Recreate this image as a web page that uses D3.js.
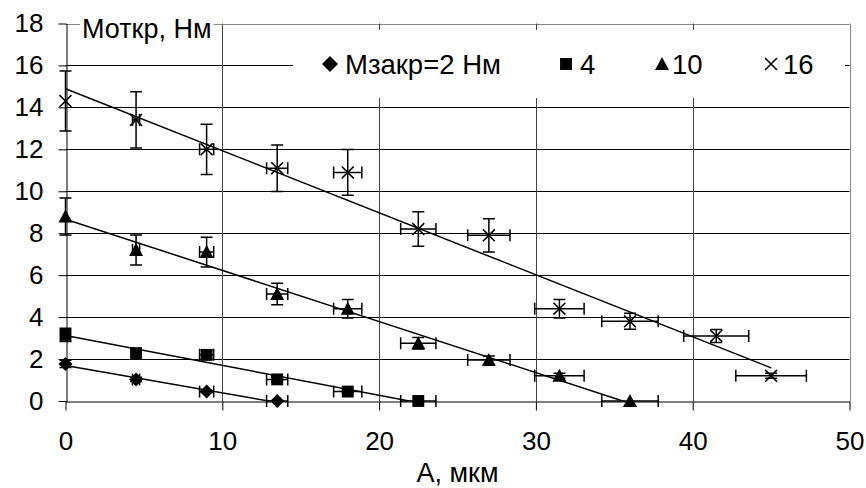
<!DOCTYPE html>
<html>
<head>
<meta charset="utf-8">
<script src="https://cdn.jsdelivr.net/npm/d3@7"></script>
<style>
  body { margin: 0; background: #fff; }
  svg { display: block; font-family: "Liberation Sans", Arial, sans-serif; }
</style>
</head>
<body>
<div id="chart"></div>
<script>
// data: A (мкм) and Mоткр (Нм) for each Mзакр
var aM2  = [0, 4.5, 9, 13.5];
var mM2  = [1.77, 1.03, 0.45, 0];
var aM4  = [0, 4.5, 9, 13.5, 18, 22.5];
var mM4  = [3.15, 2.28, 2.2, 1.03, 0.45, 0];
var aM10 = [0, 4.5, 9, 13.5, 18, 22.5, 27, 31.5, 36];
var mM10 = [8.8, 7.2, 7.1, 5.1, 4.4, 2.75, 1.95, 1.2, 0];
var aM16 = [0, 4.5, 9, 13.5, 18, 22.5, 27, 31.5, 36, 41.5, 45];
var mM16 = [14.3, 13.4, 12.0, 11.1, 10.9, 8.2, 7.9, 4.4, 3.8, 3.1, 1.2];

var seriesNames = ["Мзакр=2 Нм", "4", "10", "16"];
var seriesMarks = ["diamond", "square", "triangle", "cross"];
var yErrFrac = 0.10;   // vertical error bars, share of value
var xErrFrac = 0.05;   // horizontal error bars, share of value

var xTicks = [0, 10, 20, 30, 40, 50];
var yTicks = [0, 2, 4, 6, 8, 10, 12, 14, 16, 18];
var xTitle = "А, мкм";
var yTitle = "Моткр, Нм";

var W = 866, H = 488;
var tickFont = 26, titleFont = 27, legendFont = 27.5;

var x = d3.scaleLinear().domain([0, 50]).range([65.5, 849.5]);
var y = d3.scaleLinear().domain([0, 18]).range([401, 23.5]);

var svg = d3.select("#chart").append("svg")
    .attr("width", W)
    .attr("height", H);

svg.append("defs").append("clipPath").attr("id", "plot")
  .append("rect")
    .attr("x", x(0)).attr("y", y(18))
    .attr("width", x(50) - x(0)).attr("height", y(0) - y(18));

var crisp = function(v){ return Math.round(v) + 0.5; };

// grid ----------------------------------------------------------------------
svg.append("g").selectAll("line")
    .data(yTicks.filter(function(d){ return d > 0; }))
    .enter().append("line")
    .attr("x1", x(0)).attr("x2", x(50))
    .attr("y1", function(d){ return crisp(y(d)); })
    .attr("y2", function(d){ return crisp(y(d)); })
    .attr("stroke", function(d){ return d == 18 ? "#888" : "#000"; })
    .attr("stroke-width", 1);

svg.append("g").selectAll("line")
    .data(xTicks.filter(function(d){ return d > 0; }))
    .enter().append("line")
    .attr("y1", y(0)).attr("y2", y(18))
    .attr("x1", function(d){ return crisp(x(d)); })
    .attr("x2", function(d){ return crisp(x(d)); })
    .attr("stroke", function(d){ return d == 50 ? "#888" : "#444"; })
    .attr("stroke-width", 1);

// axes ----------------------------------------------------------------------
var yAxis = svg.append("g")
    .attr("transform", "translate(" + crisp(x(0)) + ",0)")
    .call(d3.axisLeft(y).tickValues(yTicks).tickSize(8).tickPadding(15).tickSizeOuter(0));
var xAxis = svg.append("g")
    .attr("transform", "translate(0," + crisp(y(0)) + ")")
    .call(d3.axisBottom(x).tickValues(xTicks).tickSize(9).tickPadding(21).tickSizeOuter(0));
[xAxis, yAxis].forEach(function(g){
    g.select(".domain").attr("stroke", "#000").attr("stroke-width", 1);
    g.selectAll(".tick line").attr("stroke", "#000");
    g.selectAll(".tick text").attr("fill", "#000")
        .style("font-size", tickFont + "px")
        .style("font-family", "'Liberation Sans', Arial, sans-serif");
});

// marker shapes -------------------------------------------------------------
function markerPath(kind, s){
    if(kind == "diamond"){ return "M0," + (-s) + "L" + s + ",0L0," + s + "L" + (-s) + ",0Z"; }
    if(kind == "square"){ var h = s*0.85; return "M" + (-h) + "," + (-h) + "H" + h + "V" + h + "H" + (-h) + "Z"; }
    if(kind == "triangle"){ return "M0," + (-s) + "L" + s + "," + (s*0.85) + "L" + (-s) + "," + (s*0.85) + "Z"; }
    var c = s*0.85;
    return "M" + (-c) + "," + (-c) + "L" + c + "," + c + "M" + (-c) + "," + c + "L" + c + "," + (-c);
}
function drawMarker(g, kind, px, py, s){
    var p = g.append("path")
        .attr("d", markerPath(kind, s))
        .attr("transform", "translate(" + px + "," + py + ")");
    if(kind == "cross"){ p.attr("fill", "none").attr("stroke", "#000").attr("stroke-width", 1.6); }
    else { p.attr("fill", "#000"); }
}

// series --------------------------------------------------------------------
var series = [[aM2, mM2], [aM4, mM4], [aM10, mM10], [aM16, mM16]];
var plot = svg.append("g").attr("clip-path", "url(#plot)");
var marks = svg.append("g");
var cap = 6;

series.forEach(function(sr, si){
    var xs = sr[0], ys = sr[1];
    // least squares trend line over the data range
    var mx = d3.mean(xs), my = d3.mean(ys);
    var sxy = d3.sum(xs, function(v, i){ return (v - mx)*(ys[i] - my); });
    var sxx = d3.sum(xs, function(v){ return (v - mx)*(v - mx); });
    var k = sxy/sxx, b = my - k*mx;
    var ends = d3.extent(xs);
    plot.append("line")
        .attr("x1", x(ends[0])).attr("y1", y(k*ends[0] + b))
        .attr("x2", x(ends[1])).attr("y2", y(k*ends[1] + b))
        .attr("stroke", "#000").attr("stroke-width", 1.5);

    var eb = marks.append("g").attr("stroke", "#000").attr("stroke-width", 1.5).attr("fill", "none");
    xs.forEach(function(a, i){
        var m = ys[i];
        var px = x(a), py = y(m);
        var dy = m*yErrFrac, dx = a*xErrFrac;
        if(dy > 0){
            var t = y(m + dy), bt = y(m - dy);
            eb.append("path").attr("d",
                "M" + px + "," + t + "V" + bt +
                "M" + (px - cap) + "," + t + "H" + (px + cap) +
                "M" + (px - cap) + "," + bt + "H" + (px + cap));
        }
        if(dx > 0){
            var l = x(a - dx), r = x(a + dx);
            eb.append("path").attr("d",
                "M" + l + "," + py + "H" + r +
                "M" + l + "," + (py - cap) + "V" + (py + cap) +
                "M" + r + "," + (py - cap) + "V" + (py + cap));
        }
        drawMarker(marks, seriesMarks[si], px, py, 7);
    });
});

// axis titles ---------------------------------------------------------------
var yt = svg.append("g");
var ytBg = yt.append("rect").attr("fill", "#fff");
var ytText = yt.append("text")
    .attr("x", 82).attr("y", 38)
    .style("font-size", titleFont + "px")
    .text(yTitle);
var bb = ytText.node().getBBox();
ytBg.attr("x", bb.x - 2).attr("y", bb.y + 4).attr("width", bb.width + 4).attr("height", bb.height - 4);

svg.append("text")
    .attr("x", (x(0) + x(50))/2)
    .attr("y", 482)
    .attr("text-anchor", "middle")
    .style("font-size", titleFont + "px")
    .text(xTitle);

// legend --------------------------------------------------------------------
var legendX = [330, 566, 662, 771];
var legendGap = [15, 14, 10, 12];
var legend = svg.append("g");
legend.append("rect")
    .attr("x", 293).attr("y", 30)
    .attr("width", 845 - 293).attr("height", 68)
    .attr("fill", "#fff");
seriesNames.forEach(function(name, i){
    drawMarker(legend, seriesMarks[i], legendX[i], 64, seriesMarks[i] == "diamond" ? 8 : 7);
    legend.append("text")
        .attr("x", legendX[i] + legendGap[i])
        .attr("y", 74)
        .style("font-size", legendFont + "px")
        .text(name);
});
</script>
</body>
</html>
